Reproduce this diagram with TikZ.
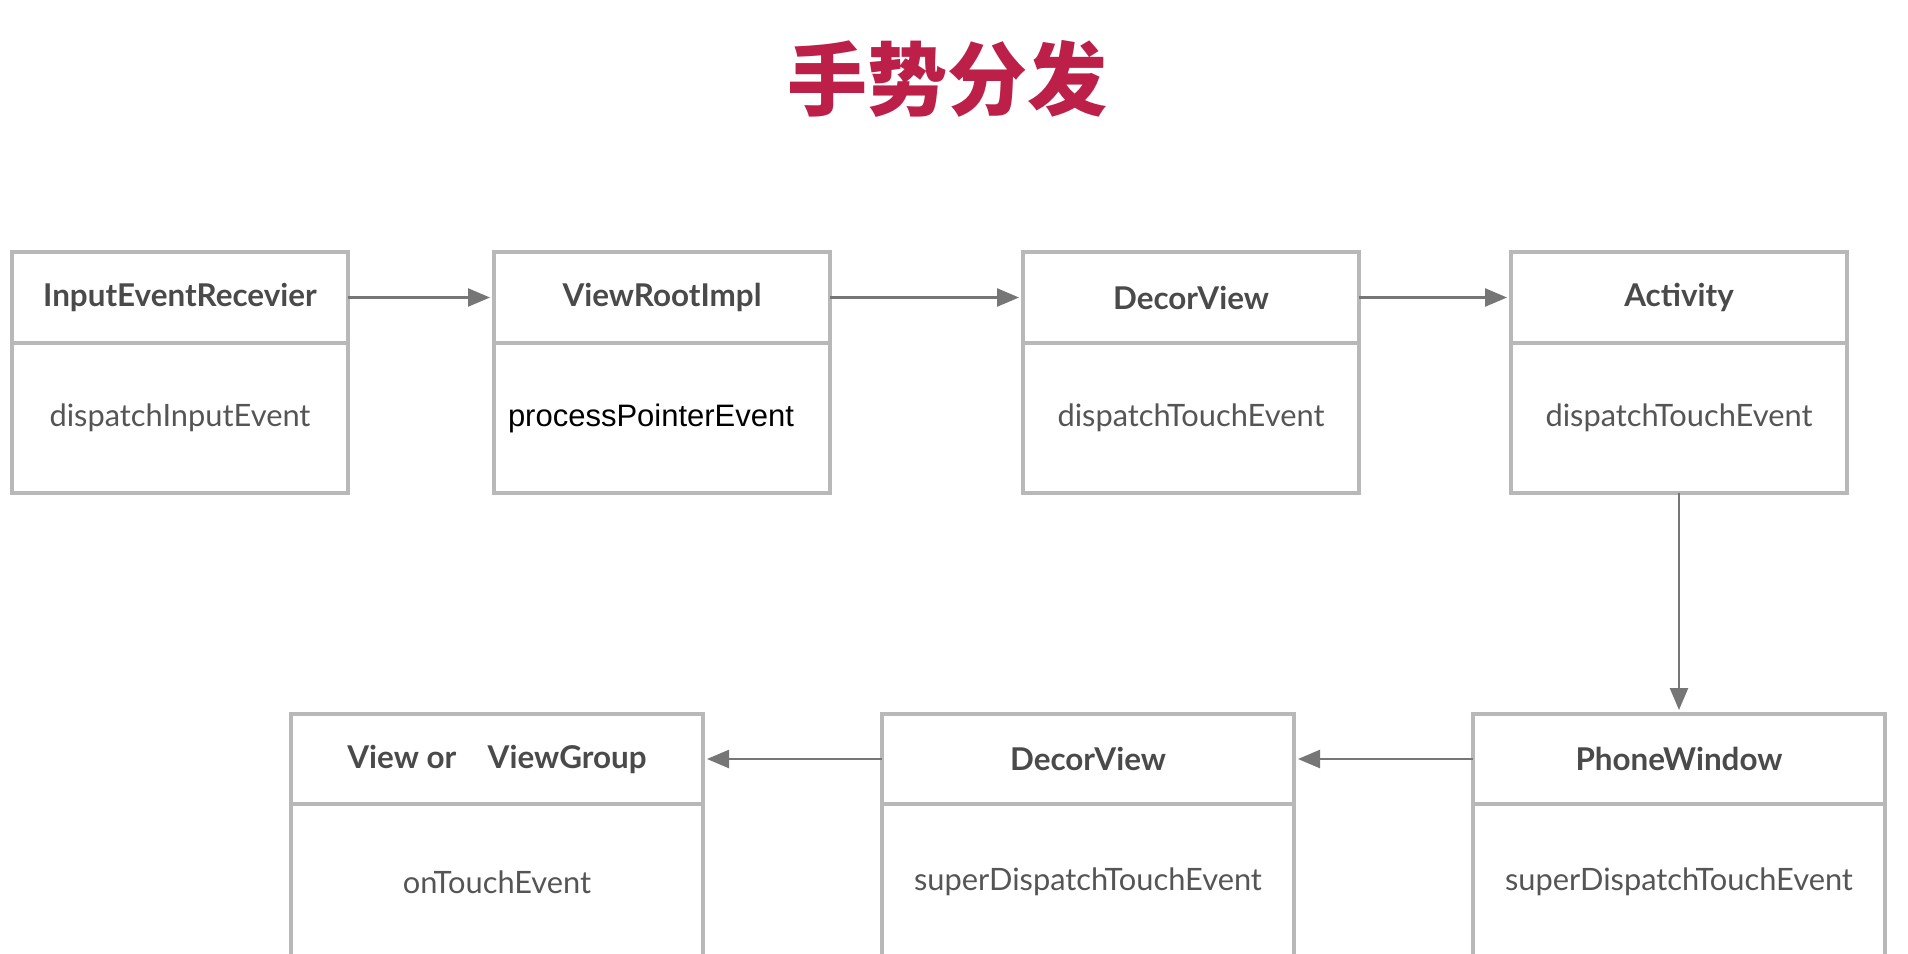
\documentclass[tikz,border=0pt]{standalone}
\usepackage{fontspec}
\setmainfont{Lato}
\newfontfamily\cjkfont{Noto Sans CJK SC}
\newfontfamily\helvfont{Liberation Sans}
\usetikzlibrary{
        arrows.meta,
        positioning
    }
\definecolor{titlered}{HTML}{BC1F48}
\definecolor{boxgray}{HTML}{B8B8B8}
\definecolor{headgray}{HTML}{4A4A4A}
\definecolor{bodygray}{HTML}{555555}
\definecolor{arrowgray}{HTML}{767676}
\tikzset{>={Triangle[length=11pt,width=9pt]},shorten >=1pt,node distance=2cm}
\tikzset{
    headbox/.style={draw=boxgray,line width=1.75pt,outer sep=0pt,minimum width=168pt,minimum height=45.5pt,
        text=headgray,font=\bfseries\fontsize{15.7}{18}\selectfont},
    bodybox/.style={draw=boxgray,line width=1.75pt,outer sep=0pt,minimum width=168pt,minimum height=75pt,
        text=bodygray,font=\fontsize{15.4}{18}\selectfont},
    widebox/.style={minimum width=206pt},
    flow/.style={->,color=arrowgray,line width=1.2pt}
}

\begin{document}
\begin{tikzpicture}[shorten >=2pt]
                    \useasboundingbox[fill=white] (0,0) rectangle (954pt,-477pt);
                    \node[font=\cjkfont\bfseries\fontsize{40}{40}\selectfont,text=titlered] (title) at (473.5pt,-39.5pt) {手势分发};
                    % top row
                    \node[headbox,anchor=north west] (inputH) at (6pt,-126pt) {InputEventRecevier};
                    \node[bodybox] (inputB) [below=0pt of inputH] {dispatchInputEvent};
                    \node[headbox] (rootH) [right=73pt of inputH] {ViewRootImpl};
                    \node[bodybox,text width=154pt,align=left,inner xsep=7pt,text=black,font=\helvfont\fontsize{15.5}{18}\selectfont] (rootB) [below=0pt of rootH] {processPointerEvent};
                    \node[headbox] (decorH) [right=96.5pt of rootH] {DecorView};
                    \node[bodybox] (decorB) [below=0pt of decorH] {dispatchTouchEvent};
                    \node[headbox] (actH) [right=76pt of decorH] {Activity};
                    \node[bodybox] (actB) [below=0pt of actH] {dispatchTouchEvent};
                    % bottom row
                    \node[headbox,widebox,minimum height=45pt] (phoneH) [below=110.5pt of actB] {PhoneWindow};
                    \node[bodybox,widebox,minimum height=78pt] (phoneB) [below=0pt of phoneH] {superDispatchTouchEvent};
                    \node[headbox,widebox,minimum height=45pt] (decorTwoH) [left=89.5pt of phoneH] {DecorView};
                    \node[bodybox,widebox,minimum height=78pt] (decorTwoB) [below=0pt of decorTwoH] {superDispatchTouchEvent};
                    \node[headbox,widebox,minimum height=45pt] (viewH) [left=89.5pt of decorTwoH] {View or\quad ViewGroup};
                    \node[bodybox,widebox,minimum height=78pt] (viewB) [below=0pt of viewH] {onTouchEvent};
                    \path[flow]
                        (inputH) edge (rootH)
                        (rootH) edge (decorH)
                        (decorH) edge (actH)
                        (actB) edge (phoneH)
                        (phoneH) edge (decorTwoH)
                        (decorTwoH) edge (viewH)
                        ;
                \end{tikzpicture}
\end{document}
